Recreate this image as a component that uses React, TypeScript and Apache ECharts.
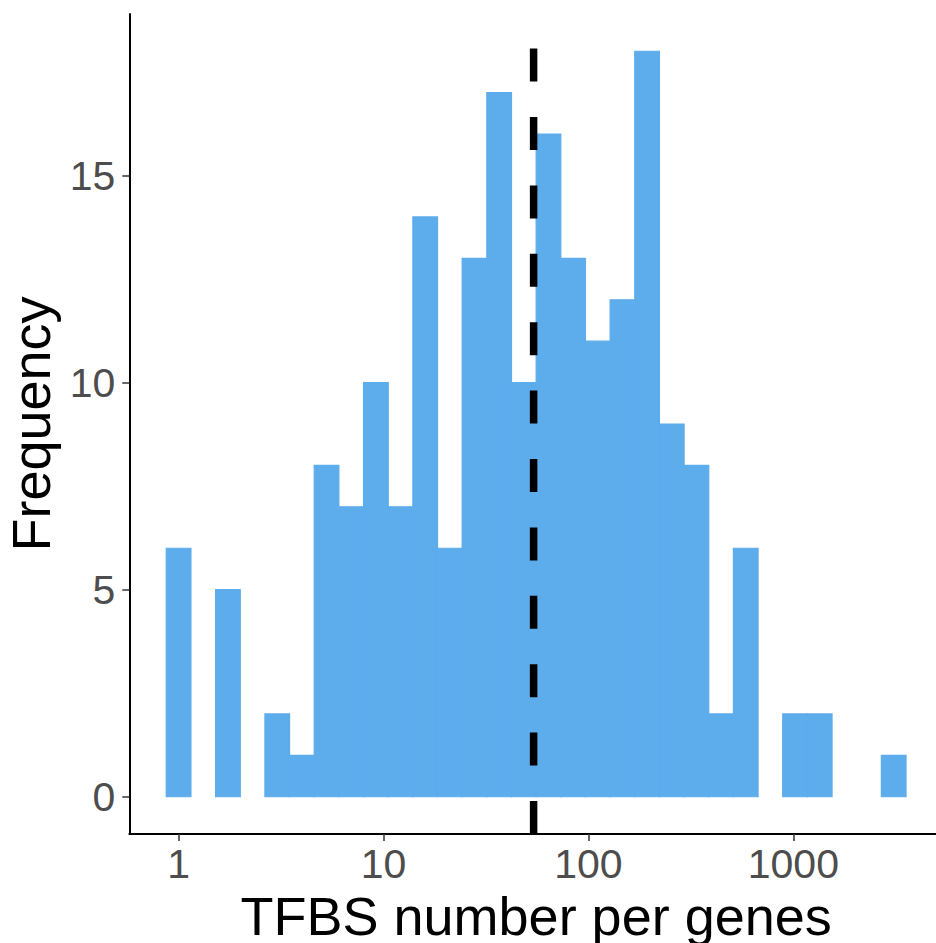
import React, { useEffect, useRef } from "react";
import * as echarts from "echarts";

// Histogram counts per bin (30 bins on a log10 scale)
const binCounts = [6, 0, 5, 0, 2, 1, 8, 7, 10, 7, 14, 6, 13, 17, 10, 16, 13, 11, 12, 18, 9, 8, 2, 6, 0, 2, 2, 0, 0, 1];
// Bin layout (log10 units): first bin centred on log10(1) = 0
const firstBinCenterLog = 0;
const binWidthLog = 0.12033;
// Median (dashed line), in TFBS count
const medianValue = 54;
// Tick labels
const xTickValues = [1, 10, 100, 1000];
const yTickValues = [0, 5, 10, 15];

const xTitle = "TFBS number per genes";
const yTitle = "Frequency";

const FONT = "'Liberation Sans', Arial, Helvetica, sans-serif";
const BAR_COLOR = "#5DACEC";

export default function App() {
  const ref = useRef<HTMLDivElement>(null);

  useEffect(() => {
    if (!ref.current) return;
    const chart = echarts.init(ref.current, null, { renderer: "svg" });

    const bins = binCounts.map((c, i) => {
      const center = firstBinCenterLog + i * binWidthLog;
      return [center - binWidthLog / 2, center + binWidthLog / 2, c];
    });
    const nBins = binCounts.length;
    const lo = firstBinCenterLog - binWidthLog / 2;
    const hi = firstBinCenterLog + (nBins - 0.5) * binWidthLog;
    const xExp = (hi - lo) * 0.05;
    const yMaxData = Math.max(...binCounts);
    const yExp = yMaxData * 0.05;
    const yMin = -yExp;
    const yMax = yMaxData + yExp;

    const xTickLogs = xTickValues.map((v) => Math.log10(v));

    chart.setOption({
      animation: false,
      backgroundColor: "#ffffff",
      grid: {
        left: 129.3,
        right: 0,
        top: 14,
        bottom: 943 - 834,
        containLabel: false,
        outerBoundsMode: "none",
      },
      xAxis: {
        type: "value",
        min: lo - xExp,
        max: hi + xExp,
        name: xTitle,
        nameLocation: "middle",
        nameGap: 52,
        nameTextStyle: { fontSize: 54, color: "#000000", fontFamily: FONT },
        axisLine: { show: true, onZero: false, lineStyle: { color: "#000000", width: 2 } },
        axisTick: {
          show: true,
          length: 7,
          customValues: xTickLogs,
          lineStyle: { color: "#333333", width: 1.5 },
        },
        axisLabel: {
          show: true,
          customValues: xTickLogs,
          margin: 9,
          fontSize: 41,
          color: "#4D4D4D",
          fontFamily: FONT,
          formatter: (v: number) => String(Math.round(Math.pow(10, v))),
        },
        splitLine: { show: false },
      },
      yAxis: {
        type: "value",
        min: yMin,
        max: yMax,
        name: yTitle,
        nameLocation: "middle",
        nameGap: 71,
        nameTextStyle: { fontSize: 54, color: "#000000", fontFamily: FONT },
        axisLine: { show: true, onZero: false, lineStyle: { color: "#000000", width: 2 } },
        axisTick: {
          show: true,
          length: 7,
          customValues: yTickValues,
          lineStyle: { color: "#333333", width: 1.5 },
        },
        axisLabel: {
          show: true,
          customValues: yTickValues,
          margin: 14,
          fontSize: 41,
          color: "#4D4D4D",
          fontFamily: FONT,
        },
        splitLine: { show: false },
      },
      series: [
        {
          type: "custom",
          data: bins,
          renderItem: (params: any, api: any) => {
            const x0 = api.value(0);
            const x1 = api.value(1);
            const c = api.value(2);
            if (!c) return null;
            const p0 = api.coord([x0, c]);
            const p1 = api.coord([x1, 0]);
            return {
              type: "rect",
              shape: { x: p0[0], y: p0[1], width: p1[0] - p0[0], height: p1[1] - p0[1] },
              style: { fill: BAR_COLOR, stroke: BAR_COLOR, lineWidth: 1.2 },
            };
          },
          encode: { x: [0, 1], y: 2 },
          z: 2,
        },
        {
          type: "line",
          data: [
            [Math.log10(medianValue), yMin],
            [Math.log10(medianValue), yMax],
          ],
          showSymbol: false,
          symbol: "none",
          lineStyle: { color: "#000000", width: 7.5, type: [33, 35.4], cap: "butt" },
          z: 3,
          silent: true,
        },
      ],
    });

    return () => chart.dispose();
  }, []);

  return (
    <div style={{ position: "fixed", left: 0, top: 0, width: 936, height: 943, overflow: "hidden", background: "#fff" }}>
      <div ref={ref} style={{ width: 943, height: 943 }} />
    </div>
  );
}
